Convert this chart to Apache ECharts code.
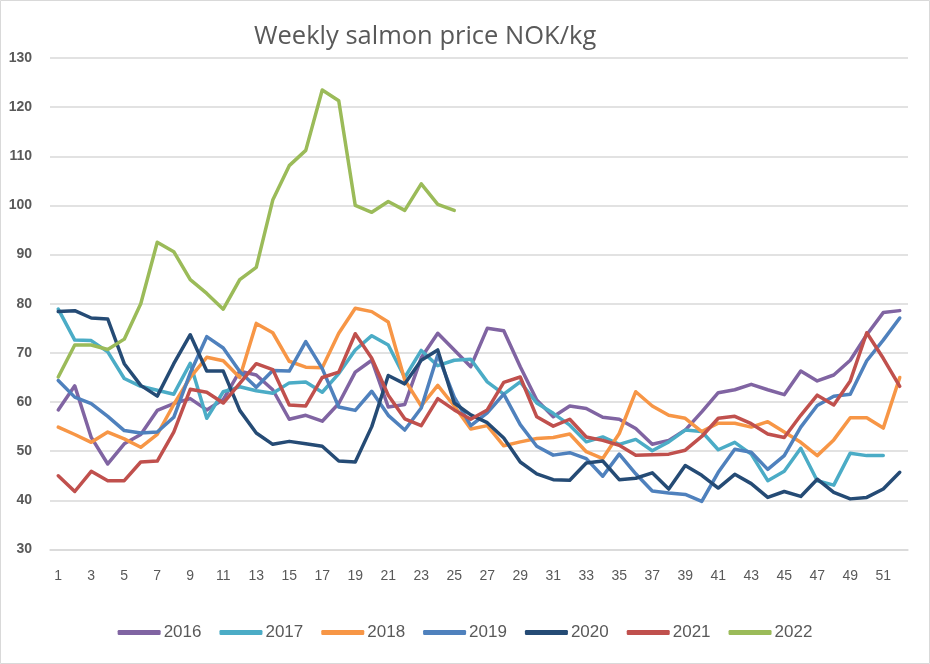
<!DOCTYPE html>
<html>
<head>
<meta charset="utf-8">
<script src="https://cdn.jsdelivr.net/npm/echarts@6/dist/echarts.min.js"></script>
<style>
html,body{margin:0;padding:0;background:#fff;}
#chart{width:930px;height:664px;}
</style>
</head>
<body>
<div id="chart"></div>
<script>
const weeks = Array.from({length: 52}, (_, i) => String(i + 1));
const yTicks = [30, 40, 50, 60, 70, 80, 90, 100, 110, 120, 130];

const s2016 = [58.4, 63.3, 52.8, 47.4, 51.5, 53.4, 58.3, 59.7, 60.7, 58.4, 60.5, 66.3, 65.5, 62.5, 56.5, 57.3, 56.1, 59.7, 66.1, 68.5, 59, 59.5, 69, 74, 70.6, 67.2, 75, 74.5, 67.2, 60.4, 57, 59.2, 58.7, 56.9, 56.5, 54.6, 51.4, 52.2, 54.3, 58, 61.9, 62.5, 63.6, 62.5, 61.5, 66.3, 64.3, 65.5, 68.5, 73.7, 78.2, 78.6];
const s2017 = [78.9, 72.6, 72.5, 70.2, 64.8, 63.2, 62.4, 61.6, 67.9, 56.7, 62.1, 63.1, 62.3, 61.8, 63.9, 64.1, 62, 65.8, 70.6, 73.5, 71.6, 65, 70.5, 67.4, 68.5, 68.7, 64.1, 61.6, 64.1, 59.8, 57.7, 55.3, 51.9, 52.9, 51.4, 52.4, 50.1, 51.9, 54.3, 54, 50.3, 51.8, 49.4, 44, 45.9, 50.6, 44, 43.1, 49.6, 49.1, 49.1];
const s2018 = [54.9, 53.4, 51.8, 53.9, 52.5, 50.8, 53.4, 59.5, 65, 69.1, 68.4, 65, 76, 74.1, 68.3, 67.1, 67, 74, 79.1, 78.4, 76.3, 64.5, 59.2, 63.4, 59.2, 54.5, 55.2, 51.1, 51.9, 52.6, 52.8, 53.5, 49.9, 48.5, 53.6, 62.1, 59.2, 57.3, 56.7, 54, 55.7, 55.7, 54.9, 56, 53.9, 51.8, 49.1, 52.3, 56.8, 56.8, 54.7, 65];
const s2019 = [64.4, 61, 59.7, 57.1, 54.2, 53.7, 53.9, 56.9, 65.9, 73.3, 71, 66.2, 63, 66.4, 66.3, 72.3, 66.8, 59, 58.3, 62.2, 57.3, 54.3, 58.8, 69.6, 61, 55.2, 57.8, 61.6, 55.4, 51, 49.2, 49.7, 48.5, 44.9, 49.4, 45.4, 41.9, 41.5, 41.2, 39.8, 45.7, 50.4, 49.8, 46.3, 49.1, 54.9, 59.3, 61.2, 61.6, 68.4, 72.6, 77.1];
const s2020 = [78.4, 78.6, 77.1, 76.9, 67.8, 63.4, 61.2, 67.8, 73.7, 66.3, 66.3, 58.3, 53.7, 51.4, 52, 51.5, 51, 48, 47.8, 55, 65.4, 63.7, 68.5, 70.6, 59.8, 57.4, 55.8, 52.7, 47.8, 45.4, 44.2, 44.1, 47.6, 48, 44.2, 44.5, 45.6, 42.3, 47.1, 45.1, 42.5, 45.3, 43.4, 40.6, 41.8, 40.8, 44.3, 41.6, 40.3, 40.6, 42.3, 45.7];
const s2021 = [45, 41.8, 45.9, 44, 44, 47.8, 48, 53.9, 62.6, 62, 59.8, 63.8, 67.8, 66.6, 59.4, 59.2, 65, 66.1, 73.9, 68.9, 61.4, 56.6, 55.2, 60.7, 58.4, 56.5, 58.4, 64, 65.1, 57, 55.1, 56.5, 52.9, 52.2, 51.2, 49.2, 49.3, 49.4, 50.2, 53, 56.7, 57.1, 55.6, 53.5, 52.8, 57.3, 61.4, 59.4, 64.3, 74.1, 68.9, 63.2];
const s2022 = [65.1, 71.6, 71.6, 70.7, 72.8, 80, 92.5, 90.6, 84.9, 82.1, 78.9, 84.9, 87.4, 101.1, 108.1, 111.2, 123.5, 121.3, 100, 98.6, 100.8, 99, 104.4, 100.2, 99];

const seriesNames = ['2016', '2017', '2018', '2019', '2020', '2021', '2022'];
const seriesData = [s2016, s2017, s2018, s2019, s2020, s2021, s2022];
const colors = ['#8064A2', '#4BACC6', '#F79646', '#4F81BD', '#254B75', '#C0504D', '#9BBB59'];

const chart = echarts.init(document.getElementById('chart'), null, {renderer: 'canvas'});
chart.setOption({
  animation: false,
  backgroundColor: '#ffffff',
  color: colors,
  title: {
    text: 'Weekly salmon price NOK/kg',
    left: 249,
    top: 19,
    textStyle: {fontFamily: 'Open Sans', fontSize: 25.5, fontWeight: 'normal', color: '#595959'}
  },
  graphic: [{
    type: 'rect',
    shape: {x: 0.5, y: 0.5, width: 929, height: 663},
    style: {fill: 'none', stroke: '#d9d9d9', lineWidth: 1},
    silent: true
  }],
  legend: {
    bottom: 18,
    left: 'center',
    icon: 'roundRect',
    itemWidth: 43,
    itemHeight: 5,
    itemGap: 18,
    textStyle: {fontFamily: 'Liberation Sans', fontSize: 17, color: '#595959', padding: [0, 0, 0, -2]},
    data: seriesNames
  },
  grid: {left: 50, right: 22, top: 58, bottom: 114.5, containLabel: false},
  xAxis: {
    type: 'category',
    data: weeks,
    boundaryGap: true,
    axisLine: {show: true, lineStyle: {color: '#d9d9d9', width: 1.5}},
    axisTick: {show: false},
    axisLabel: {interval: 1, margin: 20, fontFamily: 'Liberation Sans', fontSize: 14, color: '#595959'},
    splitLine: {show: false}
  },
  yAxis: {
    type: 'value',
    min: yTicks[0],
    max: yTicks[yTicks.length - 1],
    interval: 10,
    axisLine: {show: false},
    axisTick: {show: false},
    axisLabel: {margin: 18, fontFamily: 'Liberation Sans', fontSize: 14, fontWeight: 'bold', color: '#595959'},
    splitLine: {show: true, lineStyle: {color: '#d9d9d9', width: 1.5}}
  },
  series: seriesNames.map((name, i) => ({
    name: name,
    type: 'line',
    data: seriesData[i],
    showSymbol: false,
    symbol: 'none',
    smooth: false,
    lineStyle: {width: 3.5, color: colors[i], cap: 'round', join: 'round'},
    itemStyle: {color: colors[i]}
  }))
});
</script>
</body>
</html>
